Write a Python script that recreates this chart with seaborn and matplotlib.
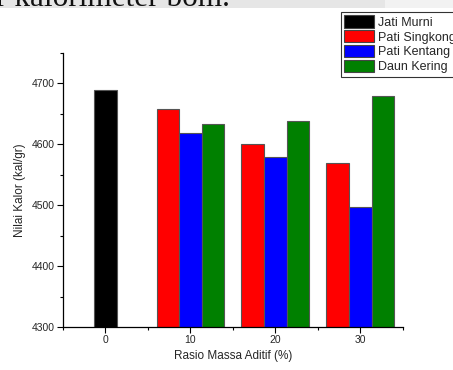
import matplotlib
matplotlib.use("Agg")
import matplotlib.pyplot as plt
from matplotlib.patches import Patch, Rectangle
from matplotlib.ticker import MultipleLocator
import numpy as np
import pandas as pd
import seaborn as sns

# Additive mass ratio (%) and heating values (kal/gr)
ratios = [0, 10, 20, 30]
series = ["Jati Murni", "Pati Singkong", "Pati Kentang", "Daun Kering"]
jati_murni = [4690]                     # pure teak, ratio 0 only
pati_singkong = [4658, 4600, 4570]      # ratios 10, 20, 30
pati_kentang = [4618, 4580, 4497]
daun_kering = [4633, 4638, 4680]
colors = ["#000000", "#ff0000", "#0000ff", "#008000"]

# bar layout: additive series sit side by side around each ratio
step = 8 / 3
rows = [{"pos": ratios[0], "value": jati_murni[0], "series": series[0]}]
for k, vals in enumerate([pati_singkong, pati_kentang, daun_kering]):
    for r, v in zip(ratios[1:], vals):
        rows.append({"pos": r + (k - 1) * step, "value": v, "series": series[k + 1]})
df = pd.DataFrame(rows)

sns.set_style("ticks")
plt.rcParams["font.family"] = ["Liberation Sans", "DejaVu Sans"]

fig = plt.figure(figsize=(4.53, 3.70), dpi=100)

# grey page strip with the clipped line of document text above the chart
fig.patches.append(Rectangle((0, 362 / 370), 385 / 453, 8 / 370, transform=fig.transFigure,
                             facecolor="#e6e6e6", edgecolor="none", zorder=0))
fig.patches.append(Rectangle((385 / 453, 362 / 370), 68 / 453, 8 / 370, transform=fig.transFigure,
                             facecolor="#f2f2f2", edgecolor="none", zorder=0))
fig.text(-4 / 453, 1 - 6 / 370, "r kalorimeter bom.", fontsize=22.5, family=["Liberation Serif", "DejaVu Serif"],
         va="baseline", ha="left", color="#111111")

ax = fig.add_axes([63 / 453, 43 / 370, 340 / 453, 274 / 370])
sns.barplot(data=df, x="pos", y="value", hue="series", hue_order=series, palette=colors,
            native_scale=True, dodge=False, width=1, errorbar=None, legend=False,
            edgecolor="#555555", linewidth=0.8, saturation=1, ax=ax)

ax.set_xlim(-5, 35)
ax.set_ylim(4300, 4750)
ax.set_xticks(ratios)
ax.set_xticklabels([str(r) for r in ratios])
ax.xaxis.set_minor_locator(MultipleLocator(5))
ax.set_yticks(np.arange(4300, 4701, 100))
ax.yaxis.set_minor_locator(MultipleLocator(50))
ax.tick_params(axis="both", which="major", direction="out", length=4, width=0.8,
               labelsize=7.5, color="black", pad=2)
ax.tick_params(axis="both", which="minor", direction="out", length=2.5, width=0.8, color="black")
for s in ["top", "right"]:
    ax.spines[s].set_visible(False)
for s in ["left", "bottom"]:
    ax.spines[s].set_color("black")
    ax.spines[s].set_linewidth(0.9)

ax.set_xlabel("Rasio Massa Aditif (%)", fontsize=8.5)
ax.set_ylabel("Nilai Kalor (kal/gr)", fontsize=8.5)
ax.xaxis.set_label_coords(0.5, -0.085)
ax.yaxis.set_label_coords(-0.11, 0.5)

handles = [Patch(facecolor=c, edgecolor="#444444", linewidth=0.8) for c in colors]
leg = fig.legend(handles, series, loc="upper left", bbox_to_anchor=(341 / 453, 1 - 12 / 370),
                 bbox_transform=fig.transFigure, frameon=True, fancybox=False, fontsize=9,
                 handlelength=2.4, handleheight=1.15, labelspacing=0.12, borderpad=0.25,
                 handletextpad=0.3, borderaxespad=0)
leg.get_frame().set_edgecolor("black")
leg.get_frame().set_linewidth(0.8)

fig.savefig("out.png", dpi=100)
